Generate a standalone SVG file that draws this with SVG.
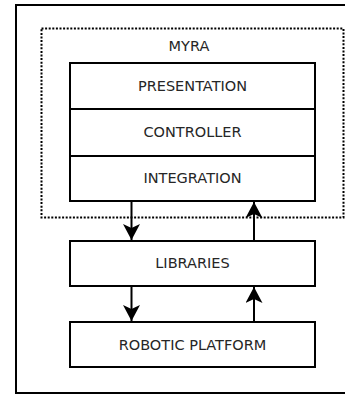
<svg xmlns="http://www.w3.org/2000/svg" width="345" height="395" viewBox="0 0 345 395">
<defs>
<style>
.box{fill:#fff;stroke:#000;stroke-width:2}
.lbl{font-family:"DejaVu Sans",sans-serif;font-size:14.5px;fill:#262626;text-anchor:middle}
.conn{stroke:#000;stroke-width:2;fill:none}
</style>
<marker id="ah" viewBox="0 0 16 17" refX="16" refY="8.5" markerWidth="16" markerHeight="17" markerUnits="userSpaceOnUse" orient="auto">
<path d="M0,0 L16,8.5 L0,17 L4,8.5 Z" fill="#000"/>
</marker>
</defs>
<rect width="345" height="395" fill="#fff"/>
<g id="outer"><rect x="16" y="5" width="340" height="388" fill="none" stroke="#000" stroke-width="2"/></g>
<g id="myra">
<rect x="41.5" y="28.5" width="302" height="189" fill="none" stroke="#000" stroke-width="2" stroke-dasharray="2,1.6"/>
<text class="lbl" x="189" y="51">MYRA</text>
</g>
<g id="presentation"><rect class="box" x="70" y="63" width="245" height="46"/><text class="lbl" x="192.5" y="91">PRESENTATION</text></g>
<g id="controller"><rect class="box" x="70" y="109" width="245" height="47"/><text class="lbl" x="192.5" y="137">CONTROLLER</text></g>
<g id="integration"><rect class="box" x="70" y="156" width="245" height="45"/><text class="lbl" x="192.5" y="183">INTEGRATION</text></g>
<g id="libraries"><rect class="box" x="70" y="241" width="245" height="45"/><text class="lbl" x="192.5" y="268">LIBRARIES</text></g>
<g id="robotic"><rect class="box" x="70" y="322" width="245" height="45"/><text class="lbl" x="192.5" y="350">ROBOTIC PLATFORM</text></g>
<g id="connectors">
<line class="conn" x1="131.5" y1="201" x2="131.5" y2="240" marker-end="url(#ah)"/>
<line class="conn" x1="254" y1="241" x2="254" y2="202" marker-end="url(#ah)"/>
<line class="conn" x1="131.5" y1="286" x2="131.5" y2="321" marker-end="url(#ah)"/>
<line class="conn" x1="254" y1="322" x2="254" y2="287" marker-end="url(#ah)"/>
</g>
</svg>
